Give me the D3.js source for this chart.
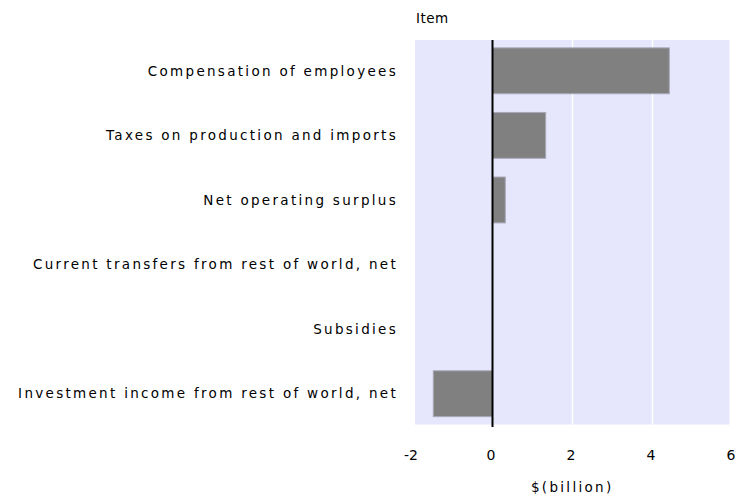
<!DOCTYPE html>
<html>
<head>
<meta charset="utf-8">
<script src="https://cdn.jsdelivr.net/npm/d3@7"></script>
<style>
  body { margin: 0; background: #fff; }
  svg text { font-family: "DejaVu Sans", sans-serif; fill: #000; }
</style>
</head>
<body>
<svg id="chart" width="736" height="500"></svg>
<script>
// data
const items = [
  "Compensation of employees",
  "Taxes on production and imports",
  "Net operating surplus",
  "Current transfers from rest of world, net",
  "Subsidies",
  "Investment income from rest of world, net"
];
const values = [4.42, 1.33, 0.32, 0, 0, -1.48];
const xTicks = [-2, 0, 2, 4, 6];

const svg = d3.select("#chart");

// scales
const x = d3.scaleLinear().domain([-2, 6]).range([412.5, 732.5]);
const y = d3.scaleBand().domain(items).range([38.5, 426]).paddingInner(0.29).paddingOuter(0.145);

const plotL = 415, plotR = 729.5, plotT = 40, plotB = 424.5;

// plot background
svg.append("rect")
  .attr("x", plotL).attr("y", plotT)
  .attr("width", plotR - plotL).attr("height", plotB - plotT)
  .attr("fill", "#e6e6fc");

// vertical gridlines
svg.append("g").selectAll("line")
  .data(xTicks.filter(d => d > 0 && d < 6))
  .enter().append("line")
  .attr("x1", d => x(d)).attr("x2", d => x(d))
  .attr("y1", plotT).attr("y2", plotB)
  .attr("stroke", "#fff").attr("stroke-width", 1.5);

// bars
const rows = items.map((name, i) => ({ name: name, value: values[i] }));
svg.append("g").selectAll("rect")
  .data(rows.filter(d => d.value !== 0))
  .enter().append("rect")
  .attr("x", d => x(Math.min(0, d.value)))
  .attr("y", d => y(d.name))
  .attr("width", d => Math.abs(x(d.value) - x(0)))
  .attr("height", y.bandwidth())
  .attr("fill", "#808080")
  .attr("stroke", "#a8a8b8")
  .attr("stroke-width", 1);

// zero line
svg.append("line")
  .attr("x1", x(0)).attr("x2", x(0))
  .attr("y1", plotT).attr("y2", plotB + 2.5)
  .attr("stroke", "#000").attr("stroke-width", 2);

// category labels
svg.append("g").selectAll("text")
  .data(items)
  .enter().append("text")
  .attr("x", 398)
  .attr("y", d => y(d) + y.bandwidth() / 2)
  .attr("dy", "0.35em")
  .attr("text-anchor", "end")
  .attr("font-size", 13.5)
  .attr("letter-spacing", 2.3)
  .text(d => d);

// x tick labels
svg.append("g").selectAll("text")
  .data(xTicks)
  .enter().append("text")
  .attr("x", d => x(d) - 1.5)
  .attr("y", 460)
  .attr("text-anchor", "middle")
  .attr("font-size", 14)
  .text(d => d);

// titles
svg.append("text")
  .attr("x", 416).attr("y", 23)
  .attr("font-size", 13.5)
  .attr("letter-spacing", 0.5)
  .text("Item");

svg.append("text")
  .attr("x", (plotL + plotR) / 2).attr("y", 492)
  .attr("text-anchor", "middle")
  .attr("font-size", 13.5)
  .attr("letter-spacing", 2.3)
  .text("$(billion)");
</script>
</body>
</html>
